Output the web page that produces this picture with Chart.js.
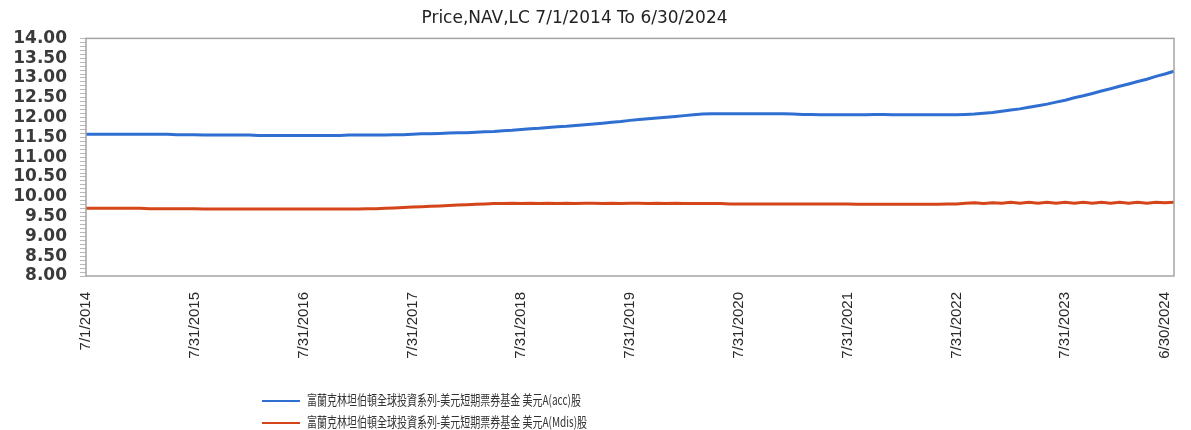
<!DOCTYPE html>
<html>
<head>
<meta charset="utf-8">
<script src="https://cdn.jsdelivr.net/npm/chart.js@4/dist/chart.umd.min.js"></script>
<style>
    body { margin: 0; background: #fff; }
    #wrap { position: relative; width: 1191px; height: 430px; }
    #legend { position: absolute; left: 262px; top: 388px; font-family: "Noto Sans CJK TC", sans-serif; font-size: 13.5px; color: #333; }
    #legend .row { height: 22px; line-height: 22px; white-space: nowrap; }
    #legend .swatch { display: inline-block; width: 38px; height: 2px; vertical-align: middle; margin-right: 7px; }
    #legend .txt { display: inline-block; transform: scaleX(0.74); transform-origin: left center; }
</style>
</head>
<body>
<div id="wrap">
    <canvas id="navChart"></canvas>
    <div id="legend"></div>
</div>
<script>
const titleText = "Price,NAV,LC 7/1/2014 To 6/30/2024";
const seriesNames = [
    "富蘭克林坦伯頓全球投資系列-美元短期票券基金 美元A(acc)股",
    "富蘭克林坦伯頓全球投資系列-美元短期票券基金 美元A(Mdis)股"
];
const seriesColors = ["#2f6fd1", "#d4451a"];

// first point is 7/1/2014, then month ends 7/31/2014 .. 6/30/2024
const months = [];
months.push("7/1/2014");
for (let i = 1; i <= 120; i++) {
    const m = (6 + i) % 12 + 1;
    const y = 2014 + Math.floor((6 + i) / 12);
    const last = new Date(y, m, 0).getDate();
    months.push(m + "/" + last + "/" + y);
}
const shownLabels = ["7/1/2014", "7/31/2015", "7/31/2016", "7/31/2017", "7/31/2018", "7/31/2019",
    "7/31/2020", "7/31/2021", "7/31/2022", "7/31/2023", "6/30/2024"];

const accNav = [
    11.58, 11.58, 11.58, 11.58, 11.58, 11.58, 11.58, 11.58, 11.58, 11.58, 11.57, 11.57, 11.57,
    11.56, 11.56, 11.56, 11.56, 11.56, 11.56, 11.55, 11.55, 11.55, 11.55, 11.55, 11.55,
    11.55, 11.55, 11.55, 11.55, 11.56, 11.56, 11.56, 11.56, 11.56, 11.57, 11.57, 11.58,
    11.59, 11.59, 11.60, 11.61, 11.62, 11.62, 11.63, 11.64, 11.65, 11.67, 11.68, 11.70,
    11.72, 11.73, 11.75, 11.77, 11.78, 11.80, 11.82, 11.84, 11.86, 11.88, 11.90, 11.93,
    11.95, 11.97, 11.99, 12.01, 12.03, 12.05, 12.07, 12.09, 12.10, 12.10, 12.10, 12.10,
    12.10, 12.10, 12.10, 12.10, 12.10, 12.09, 12.08, 12.08, 12.07, 12.07, 12.07, 12.07,
    12.07, 12.07, 12.08, 12.08, 12.07, 12.07, 12.07, 12.07, 12.07, 12.07, 12.07, 12.07,
    12.08, 12.09, 12.11, 12.13, 12.16, 12.19, 12.22, 12.26, 12.30, 12.34, 12.39, 12.44,
    12.50, 12.55, 12.61, 12.67, 12.73, 12.79, 12.85, 12.91, 12.97, 13.04, 13.10, 13.17
];
const mdisNav = [
    9.71, 9.71, 9.71, 9.71, 9.71, 9.71, 9.71, 9.70, 9.70, 9.70, 9.70, 9.70, 9.70,
    9.69, 9.69, 9.69, 9.69, 9.69, 9.69, 9.69, 9.69, 9.69, 9.69, 9.69, 9.69,
    9.69, 9.69, 9.69, 9.69, 9.69, 9.69, 9.70, 9.70, 9.71, 9.72, 9.73, 9.74,
    9.75, 9.76, 9.77, 9.78, 9.79, 9.80, 9.81, 9.82, 9.83, 9.83, 9.84, 9.83,
    9.84, 9.83, 9.84, 9.83, 9.84, 9.83, 9.84, 9.84, 9.83, 9.84, 9.83, 9.84,
    9.84, 9.83, 9.84, 9.83, 9.84, 9.83, 9.83, 9.83, 9.83, 9.83, 9.82, 9.82,
    9.82, 9.82, 9.82, 9.82, 9.82, 9.82, 9.82, 9.82, 9.82, 9.82, 9.82, 9.82,
    9.81, 9.81, 9.81, 9.81, 9.81, 9.81, 9.81, 9.81, 9.81, 9.81, 9.82, 9.82,
    9.84, 9.85, 9.83, 9.85, 9.84, 9.86, 9.84, 9.86, 9.84, 9.86, 9.84, 9.86,
    9.84, 9.86, 9.84, 9.86, 9.84, 9.86, 9.84, 9.86, 9.84, 9.86, 9.85, 9.86
];

// grey frame round the plot area
const plotFrame = {
    id: "plotFrame",
    afterDatasetsDraw(chart) {
        const { ctx, chartArea: a } = chart;
        ctx.save();
        ctx.strokeStyle = "#a4a4a4";
        ctx.lineWidth = 1.5;
        ctx.strokeRect(a.left, a.top, a.right - a.left, a.bottom - a.top);
        ctx.restore();
    }
};
// title sits a bit left of the canvas centre
const titleShift = {
    id: "titleShift",
    afterLayout(chart) {
        if (chart.titleBlock) {
            chart.titleBlock.left = -42;
            chart.titleBlock.right = 1191;
        }
    }
};

document.addEventListener("DOMContentLoaded", function () {
    const ctx = document.getElementById("navChart").getContext("2d");

    new Chart(ctx, {
        type: "line",
        data: {
            labels: months,
            datasets: [
                { label: seriesNames[0], data: accNav, borderColor: seriesColors[0], borderWidth: 3, pointRadius: 0 },
                { label: seriesNames[1], data: mdisNav, borderColor: seriesColors[1], borderWidth: 3, pointRadius: 0 }
            ]
        },
        options: {
            responsive: true,
            maintainAspectRatio: false,
            animation: false,
            layout: { padding: { left: 0, right: 8, top: 0, bottom: 0 } },
            plugins: {
                legend: { display: false },
                tooltip: { enabled: false },
                title: {
                    display: true,
                    text: titleText,
                    color: "#222",
                    font: { family: "'DejaVu Sans', sans-serif", size: 17, weight: "normal" },
                    padding: { top: 8, bottom: 10 }
                }
            },
            scales: {
                x: {
                    grid: { display: false },
                    border: { display: false },
                    ticks: {
                        autoSkip: false,
                        maxRotation: 90,
                        minRotation: 90,
                        padding: 8,
                        color: "#2a2a2a",
                        font: { family: "'Liberation Sans', Arial, sans-serif", size: 15 },
                        callback: function (value) {
                            const lab = this.getLabelForValue(value);
                            return shownLabels.includes(lab) ? lab : null;
                        }
                    },
                    afterFit: function (scale) { scale.height = 154; }
                },
                y: {
                    min: 8,
                    max: 14,
                    border: { display: false },
                    grid: { drawOnChartArea: false, tickLength: 6, color: "#b8b8b8" },
                    ticks: {
                        stepSize: 0.1,
                        autoSkip: false,
                        padding: 13,
                        color: "#3a3a3a",
                        font: { family: "'DejaVu Sans', sans-serif", size: 17, weight: "bold" },
                        callback: function (value) {
                            const half = value * 2;
                            return Math.abs(half - Math.round(half)) < 1e-6 ? value.toFixed(2) : "";
                        }
                    },
                    afterFit: function (scale) { scale.width = 86; }
                }
            }
        },
        plugins: [plotFrame, titleShift]
    });

    const legend = document.getElementById("legend");
    seriesNames.forEach(function (name, i) {
        const row = document.createElement("div");
        row.className = "row";
        row.innerHTML = '<span class="swatch" style="background:' + seriesColors[i] + '"></span><span class="txt"></span>';
        row.querySelector(".txt").textContent = name;
        legend.appendChild(row);
    });
});
</script>
</body>
</html>
